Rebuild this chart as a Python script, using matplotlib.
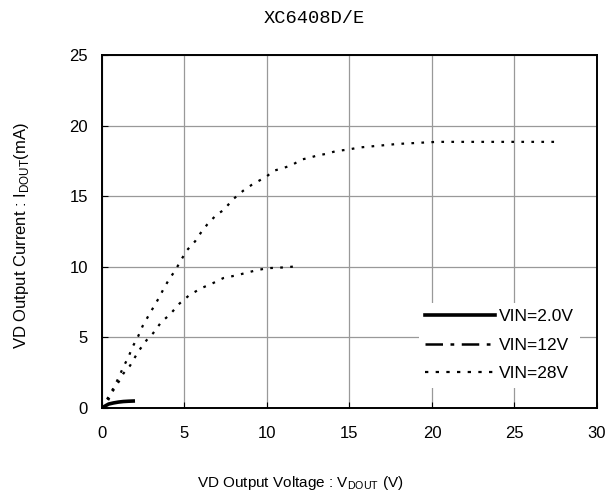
import matplotlib
matplotlib.use("Agg")
import matplotlib.pyplot as plt
from matplotlib.lines import Line2D

plt.rcParams['font.family'] = ['Liberation Sans', 'DejaVu Sans']
plt.rcParams['mathtext.fontset'] = 'custom'
plt.rcParams['mathtext.rm'] = 'Liberation Sans'

# VIN = 2.0V
v2 = [0.0, 0.2, 0.4, 0.7, 1.0, 1.3, 1.6, 2.0]
i2 = [0.0, 0.15, 0.28, 0.36, 0.42, 0.46, 0.48, 0.5]

# VIN = 12V
v12 = [0.0, 0.28, 0.6, 1.09, 1.3, 1.7, 2.0, 2.26, 2.7, 3.1, 3.6, 4.1, 4.7, 5.3,
       6.04, 6.65, 7.35, 8.16, 9.17, 9.98, 10.9, 12.0]
i12 = [0.0, 0.33, 1.1, 2.0, 2.45, 3.0, 3.6, 4.1, 4.8, 5.3, 6.1, 6.6, 7.4, 8.0,
       8.5, 8.8, 9.2, 9.4, 9.7, 9.9, 9.95, 10.05]

# VIN = 28V
v28 = [0.0, 0.2, 0.69, 0.99, 1.29, 1.6, 1.84, 2.2, 2.46, 2.8, 3.1, 3.45, 3.76, 4.06,
       4.47, 4.8, 5.17, 5.64, 6.04, 6.38, 6.95, 7.35, 7.96, 8.57, 9.07, 9.98, 10.4,
       11.0, 11.5, 12.1, 12.5, 13.1, 13.6, 14.2, 14.9, 15.6, 17.9, 20.3, 24.0, 27.8]
i28 = [0.0, 0.4, 1.4, 2.1, 2.9, 3.6, 4.3, 5.1, 5.8, 6.5, 7.1, 7.8, 8.5, 9.1,
       9.8, 10.5, 11.2, 11.8, 12.5, 13.0, 13.7, 14.0, 14.8, 15.4, 15.8, 16.4, 16.8,
       17.0, 17.2, 17.6, 17.7, 17.9, 18.0, 18.2, 18.3, 18.45, 18.7, 18.85, 18.85, 18.85]

labels = ['VIN=2.0V', 'VIN=12V', 'VIN=28V']
x_ticks = [0, 5, 10, 15, 20, 25, 30]
y_ticks = [0, 5, 10, 15, 20, 25]

fig = plt.figure(figsize=(6.16, 4.93), dpi=100)
ax = fig.add_axes([0.1656, 0.1724, 0.8034, 0.716])

ax.plot(v2, i2, color='black', lw=2.6, solid_capstyle='butt')
ax.plot(v12, i12, color='black', lw=1.6, linestyle=(0, (1.2, 3.3)))
ax.plot(v28, i28, color='black', lw=1.6, linestyle=(0, (1.2, 3.3)))

ax.set_xlim(0, 30)
ax.set_ylim(0, 25)
ax.set_xticks(x_ticks)
ax.set_yticks(y_ticks)
ax.tick_params(direction='in', length=4, labelsize=12, colors='black')
ax.tick_params(axis='x', pad=13)
ax.tick_params(axis='y', pad=10)
ax.grid(True, color='#999999', lw=0.9)
ax.set_axisbelow(True)
for s in ax.spines.values():
    s.set_linewidth(1.4)
    s.set_color('black')

handles = [
    Line2D([], [], color='black', lw=2.6),
    Line2D([], [], color='black', lw=1.8, linestyle=(0, (7, 3, 1.5, 3))),
    Line2D([], [], color='black', lw=1.6, linestyle=(0, (1.5, 3.3))),
]
leg = ax.legend(handles, labels, loc='lower right', bbox_to_anchor=(0.966, 0.058),
                frameon=True, fontsize=12.5, handlelength=4.0, handletextpad=0.25,
                labelspacing=0.78, borderpad=0.35, borderaxespad=0)
leg.get_frame().set_edgecolor('none')
leg.get_frame().set_facecolor('white')
leg.get_frame().set_alpha(1)
leg.get_frame().set_boxstyle('square', pad=0)

fig.text(0.51, 0.963, 'XC6408D/E', ha='center', va='center', fontsize=13.5,
         family=['Liberation Mono', 'DejaVu Sans Mono'])
fig.text(0.487, 0.02, r'VD Output Voltage : V$_{\mathrm{DOUT}}$ (V)', ha='center',
         va='center', fontsize=11)
fig.text(0.035, 0.523, r'VD Output Current : I$_{\mathrm{DOUT}}$(mA)', ha='center',
         va='center', rotation=90, fontsize=12)

fig.savefig('out.png', dpi=100)
